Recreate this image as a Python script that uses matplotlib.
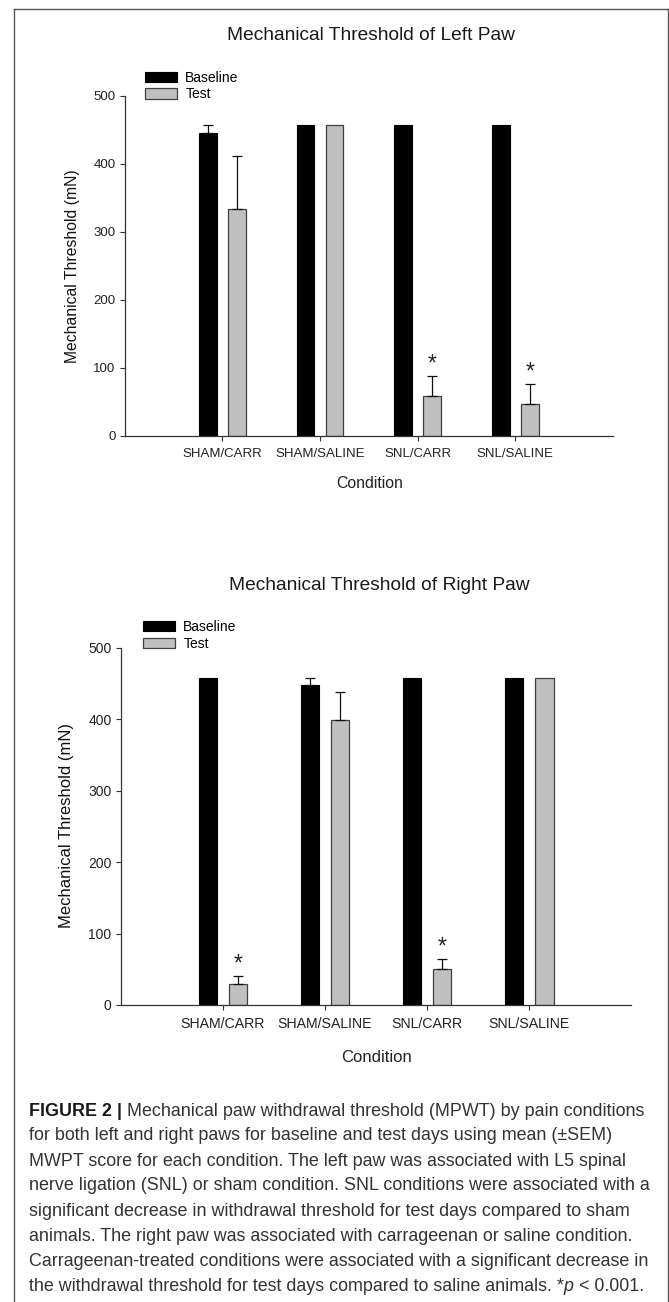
import matplotlib
matplotlib.use('Agg')
import matplotlib.pyplot as plt
import numpy as np
from matplotlib.lines import Line2D
from matplotlib.patches import Patch

# ---------------- data ----------------
conditions = ["SHAM/CARR", "SHAM/SALINE", "SNL/CARR", "SNL/SALINE"]
series_names = ["Baseline", "Test"]

left_baseline = [445, 457, 457, 457]
left_baseline_err = [12, 0, 0, 0]
left_test = [334, 457, 59, 47]
left_test_err = [78, 0, 29, 29]
left_sig = [False, False, True, True]

right_baseline = [457, 448, 457, 457]
right_baseline_err = [0, 9, 0, 0]
right_test = [30, 399, 51, 457]
right_test_err = [11, 39, 14, 0]
right_sig = [True, False, True, False]

yticks = [0, 100, 200, 300, 400, 500]

caption_lines = [
    "for both left and right paws for baseline and test days using mean (\u00b1SEM)",
    "MWPT score for each condition. The left paw was associated with L5 spinal",
    "nerve ligation (SNL) or sham condition. SNL conditions were associated with a",
    "significant decrease in withdrawal threshold for test days compared to sham",
    "animals. The right paw was associated with carrageenan or saline condition.",
    "Carrageenan-treated conditions were associated with a significant decrease in",
]

# ---------------- setup ----------------
plt.rcParams['font.family'] = ['Liberation Sans', 'DejaVu Sans']
W, H = 669, 1302
fig = plt.figure(figsize=(W / 100, H / 100), dpi=100)
fig.patch.set_facecolor('white')


def fx(px):
    return px / W


def fy(py):
    return 1 - py / H


BLACK = '#000000'
GRAY = '#c0c0c0'
GRAY_EDGE = '#404040'
AXC = '#333333'
TXT = '#222222'
bw = 0.18
off = 0.148


def panel(rect, base, base_err, test, test_err, sig, title, title_xy, title_fs,
          ylab_xy, ylab_fs, cond_xy, cond_fs, leg_xy, tick_fs, xtick_fs):
    l, t, r, b = rect
    ax = fig.add_axes([fx(l), fy(b), (r - l) / W, (b - t) / H])
    x = np.arange(1, len(conditions) + 1)
    ax.bar(x - off, base, width=bw, color=BLACK, edgecolor=BLACK, linewidth=0.8, zorder=2)
    ax.bar(x + off, test, width=bw, color=GRAY, edgecolor=GRAY_EDGE, linewidth=0.9, zorder=2)
    for xs, vals, errs in ((x - off, base, base_err), (x + off, test, test_err)):
        idx = [i for i, e in enumerate(errs) if e > 0]
        if idx:
            ax.errorbar(xs[idx], np.array(vals)[idx],
                        yerr=[np.zeros(len(idx)), np.array(errs)[idx]],
                        fmt='none', ecolor='#111111', elinewidth=0.9,
                        capsize=3.6, capthick=0.9, zorder=3)
    for i, s in enumerate(sig):
        if s:
            ax.annotate('*', xy=(x[i] + off, test[i] + test_err[i]),
                        xytext=(0, 8.5), textcoords='offset points',
                        ha='center', va='center', fontsize=16.5, color=TXT)
    ax.set_xlim(0, 5)
    ax.set_ylim(0, 500)
    ax.set_yticks(yticks)
    ax.set_xticks(x)
    ax.set_xticklabels(conditions)
    for sp in ('top', 'right'):
        ax.spines[sp].set_visible(False)
    for sp in ('left', 'bottom'):
        ax.spines[sp].set_color(AXC)
        ax.spines[sp].set_linewidth(0.9)
    ax.tick_params(axis='y', direction='out', length=3.6, width=0.8, color=AXC,
                   labelsize=tick_fs, labelcolor=TXT, pad=3)
    ax.tick_params(axis='x', direction='out', length=3.6, width=0.8, color=AXC,
                   labelsize=xtick_fs, labelcolor=TXT, pad=5)
    ax.set_facecolor('white')

    fig.text(fx(title_xy[0]), fy(title_xy[1]), title, ha='center', va='center',
             fontsize=title_fs, color='#1a1a1a')
    fig.text(fx(ylab_xy[0]), fy(ylab_xy[1]), 'Mechanical Threshold (mN)', rotation=90,
             ha='center', va='center', fontsize=ylab_fs, color='#111111')
    fig.text(fx(cond_xy[0]), fy(cond_xy[1]), 'Condition', ha='center', va='center',
             fontsize=cond_fs, color=TXT)

    handles = [Patch(facecolor=BLACK, edgecolor=BLACK, linewidth=0.8),
               Patch(facecolor=GRAY, edgecolor=GRAY_EDGE, linewidth=0.9)]
    ax.legend(handles, series_names, loc='upper left',
              bbox_to_anchor=(fx(leg_xy[0]), fy(leg_xy[1])),
              bbox_transform=fig.transFigure, frameon=False, borderpad=0,
              borderaxespad=0, handlelength=2.3, handleheight=0.75,
              handletextpad=0.6, labelspacing=0.2, fontsize=10)
    return ax


panel((124.6, 95.7, 613, 435.7), left_baseline, left_baseline_err, left_test, left_test_err,
      left_sig, 'Mechanical Threshold of Left Paw', (371, 35), 13.8,
      (73, 266), 11.3, (370, 484), 11.4, (145, 70.5), 9.5, 9.5)

panel((120.7, 647.7, 631.4, 1005), right_baseline, right_baseline_err, right_test, right_test_err,
      right_sig, 'Mechanical Threshold of Right Paw', (379, 585.7), 13.8,
      (66, 826), 12, (377, 1057.7), 12, (143, 620), 10, 10.2)

# ---------------- frame ----------------
for (x0, y0, x1, y1) in ((14, 8.5, 667.5, 8.5), (14, 8.5, 14, 1302), (667.5, 8.5, 667.5, 1302)):
    fig.add_artist(Line2D([fx(x0), fx(x1)], [fy(y0), fy(y1)], color='#555555', lw=1.0,
                          transform=fig.transFigure))

# ---------------- caption ----------------
renderer = fig.canvas.get_renderer()
CAP_FS = 12.9
CAP_C = '#333333'
cap_x = 29
line_y = [1110, 1134.5, 1159.5, 1184.5, 1209.5, 1235, 1260, 1285]


def rich_line(y_center, pieces):
    x = fx(cap_x)
    for txt, kw in pieces:
        style = dict(fontsize=CAP_FS, va='baseline', ha='left', color=CAP_C)
        style.update(kw)
        t = fig.text(x, fy(y_center + 6), txt, **style)
        bb = t.get_window_extent(renderer=renderer)
        x = bb.x1 / fig.bbox.width


rich_line(line_y[0], [("FIGURE 2 | ", dict(fontweight='bold', color='#1a1a1a')),
                      ("Mechanical paw withdrawal threshold (MPWT) by pain conditions", {})])
for i, ln in enumerate(caption_lines):
    rich_line(line_y[i + 1], [(ln, {})])
rich_line(line_y[7], [("the withdrawal threshold for test days compared to saline animals. *", {}),
                      ("p", dict(style='italic')),
                      (" < 0.001.", {})])

fig.savefig('out.png', dpi=100, facecolor='white')
